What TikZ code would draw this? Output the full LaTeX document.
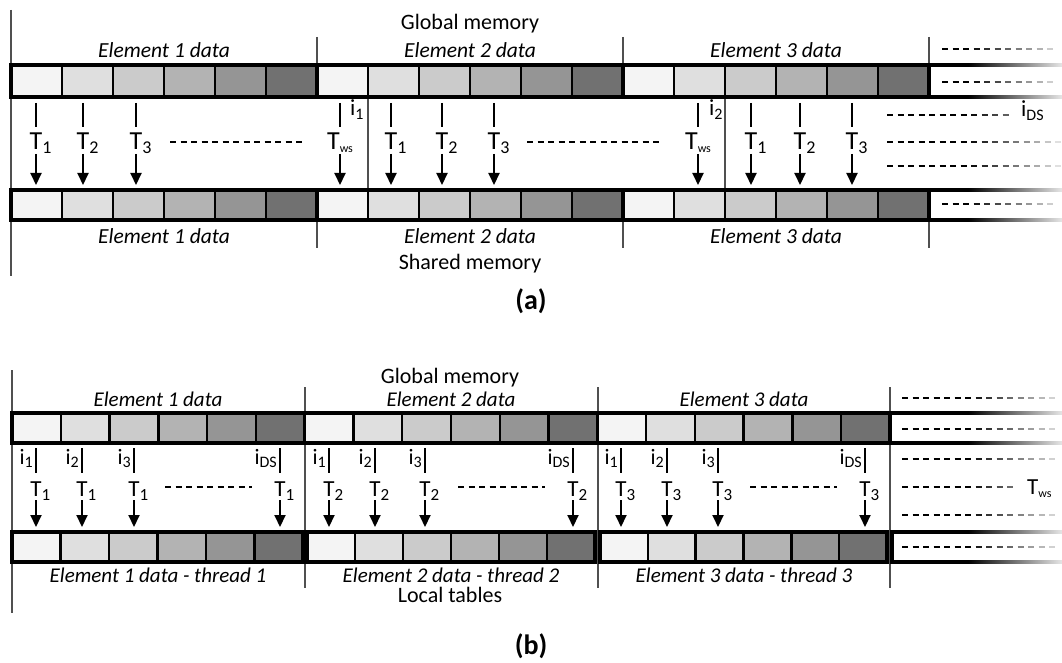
\documentclass[tikz,border=0pt]{standalone}
\usepackage{fontspec}
\setmainfont{Carlito}
\usetikzlibrary{arrows.meta}
\definecolor{ca}{HTML}{F4F4F4}
\definecolor{cb}{HTML}{DFDFDF}
\definecolor{cc}{HTML}{CBCBCB}
\definecolor{cd}{HTML}{B3B3B3}
\definecolor{ce}{HTML}{959595}
\definecolor{cf}{HTML}{717171}
\definecolor{vgray}{HTML}{505050}

\newcommand\cellrow[4]{%
  \foreach \k/\c in {0/ca,1/cb,2/cc,3/cd,4/ce,5/cf}{%
    \filldraw[fill=\c,draw=black,line width=2.4pt] ({#1+\k*#2},#3) rectangle ({#1+(\k+1)*#2},#4);}%
  \draw[line width=3.2pt] (#1,#3) rectangle ({#1+6*#2},#4);}

\newcommand\fdash[3]{%
  \pgfmathtruncatemacro\nd{(#2-#1-6)/10.5}%
  \foreach \k in {0,...,\nd}{%
    \pgfmathsetmacro\xa{#1+10.5*\k}%
    \pgfmathsetmacro\pc{\xa<965 ? 100 : max(12,100-88*(\xa-965)/90)}%
    \draw[line width=1.5pt,black!\pc] (\xa,#3) -- ++(6,0);}}

\newcommand\fline[2]{%
  \fill[black] (#1,#2-1.6) rectangle (968,#2+1.6);
  \shade[left color=black,right color=black!10] (968,#2-1.6) rectangle (1062,#2+1.6);}

\newcommand\Ta[1]{T\rlap{\raisebox{-4pt}{\fontsize{18}{18}\selectfont #1}}}
\newcommand\Tb[1]{T\rlap{\raisebox{-4pt}{\fontsize{17}{17}\selectfont #1}}}
\newcommand\Tws{T\raisebox{-3pt}{\fontsize{12}{12}\selectfont ws}}
\newcommand\ii[1]{i\raisebox{-3.5pt}{\fontsize{16}{16}\selectfont #1}}

\newcommand\tha[3]{%
  \draw[tick] (#1,103) -- (#1,127);
  \node[tla,anchor=base] (#2) at (#1,150) {#3};
  \draw[arr] (#1,154) -- (#1,185);}

\newcommand\thb[4]{%
  \draw[tick] (#1,448) -- (#1,473);
  \node[ilb,anchor=base east] (#2i) at (#1-3,464) {\ii{#4}};
  \node[tlb,anchor=base] (#2) at (#1,496) {\Tb{#3}};
  \draw[arr] (#1,500) -- (#1,527);}

\begin{document}
\begin{tikzpicture}[x=1pt,y=-1pt,
  vl/.style={draw=vgray,line width=1.2pt},
  tick/.style={line width=1.4pt},
  arr/.style={line width=2pt,-{Triangle[width=11pt,length=12pt]}},
  dsh/.style={line width=1.5pt,dash pattern=on 6pt off 4.5pt},
  lab/.style={inner sep=0pt,font=\fontsize{22}{26}\selectfont},
  ela/.style={inner sep=0pt,font=\fontsize{21.5}{26}\selectfont\itshape},
  elb/.style={inner sep=0pt,font=\fontsize{21}{25}\selectfont\itshape},
  tla/.style={inner sep=0pt,font=\fontsize{26}{30}\selectfont},
  tlb/.style={inner sep=0pt,font=\fontsize{23}{27}\selectfont},
  ila/.style={inner sep=0pt,font=\fontsize{23}{27}\selectfont},
  ilb/.style={inner sep=0pt,font=\fontsize{22}{26}\selectfont},
  capt/.style={inner sep=0pt,font=\fontsize{28}{32}\selectfont\bfseries}]
\useasboundingbox (0,0) rectangle (1062,663);

% ---------------- (a) ----------------
\draw[vl] (11,10) -- (11,276);
\foreach \x in {317,623,929} {\draw[vl] (\x,37) -- (\x,65); \draw[vl] (\x,220) -- (\x,248);}
\draw[vl] (368,97) -- (368,190);
\draw[vl] (725,97) -- (725,190);

\cellrow{11}{51}{65}{97}
\cellrow{317}{51}{65}{97}
\cellrow{623}{51}{65}{97}
\cellrow{11}{51}{190}{220}
\cellrow{317}{51}{190}{220}
\cellrow{623}{51}{190}{220}
\fline{929}{65}\fline{929}{97}\fline{929}{190}\fline{929}{220}

\node[lab,anchor=base] (gma) at (470,30) {Global memory};
\node[ela,anchor=base] (ea1) at (164,58) {Element 1 data};
\node[ela,anchor=base] (ea2) at (470,58) {Element 2 data};
\node[ela,anchor=base] (ea3) at (776,58) {Element 3 data};
\node[ela,anchor=base] (eb1) at (164,243) {Element 1 data};
\node[ela,anchor=base] (eb2) at (470,243) {Element 2 data};
\node[ela,anchor=base] (eb3) at (776,243) {Element 3 data};
\node[lab,anchor=base] (shm) at (470,269) {Shared memory};
\node[capt,anchor=base] (capa) at (531,309) {(a)};

\tha{36}{ta1}{\Ta{1}}
\tha{83}{ta2}{\Ta{2}}
\tha{136}{ta3}{\Ta{3}}
\tha{340}{taw1}{\Tws}
\tha{391}{tb1}{\Ta{1}}
\tha{442}{tb2}{\Ta{2}}
\tha{494}{tb3}{\Ta{3}}
\tha{698}{taw2}{\Tws}
\tha{751}{tc1}{\Ta{1}}
\tha{800}{tc2}{\Ta{2}}
\tha{852}{tc3}{\Ta{3}}
\node[ila,anchor=base west] (ia1) at (350,116) {\ii{1}};
\node[ila,anchor=base west] (ia2) at (709,116) {\ii{2}};
\node[ila,anchor=base west] (iads) at (1021,117) {\ii{DS}};

\draw[dsh] (170,142) -- (305,142);
\draw[dsh] (527,142) -- (662,142);
\fdash{942}{1062}{49}
\fdash{942}{1062}{82}
\fdash{887}{1012}{115}
\fdash{887}{1062}{142}
\fdash{887}{1062}{166}
\fdash{942}{1062}{204}

% ---------------- (b) ----------------
\draw[vl] (12,370) -- (12,613);
\foreach \x in {305,598,890} {\draw[vl] (\x,387) -- (\x,588);}

\cellrow{12}{48.78}{413}{443}
\cellrow{304.67}{48.78}{413}{443}
\cellrow{597.33}{48.78}{413}{443}
\fline{890}{413}\fline{890}{443}
\cellrow{12}{48.5}{532}{562}
\cellrow{307}{48}{532}{562}
\cellrow{600}{47.83}{532}{562}
\draw[line width=3.2pt] (892,530.4) -- (892,563.6);
\fline{892}{532}\fline{892}{562}

\node[lab,anchor=base] (gmb) at (450,383) {Global memory};
\node[elb,anchor=base] (ec1) at (158,406) {Element 1 data};
\node[elb,anchor=base] (ec2) at (451,406) {Element 2 data};
\node[elb,anchor=base] (ec3) at (744,406) {Element 3 data};
\node[elb,anchor=base] (ed1) at (158,582) {Element 1 data - thread 1};
\node[elb,anchor=base] (ed2) at (451,582) {Element 2 data - thread 2};
\node[elb,anchor=base] (ed3) at (744,582) {Element 3 data - thread 3};
\node[lab,anchor=base] (ltb) at (450,602) {Local tables};
\node[capt,anchor=base] (capb) at (531,654) {(b)};

\thb{36}{u1}{1}{1}
\thb{82}{u2}{1}{2}
\thb{134}{u3}{1}{3}
\thb{280}{u4}{1}{DS}
\thb{329}{v1}{2}{1}
\thb{375}{v2}{2}{2}
\thb{425}{v3}{2}{3}
\thb{573}{v4}{2}{DS}
\thb{621}{w1}{3}{1}
\thb{667}{w2}{3}{2}
\thb{718}{w3}{3}{3}
\thb{865}{w4}{3}{DS}

\draw[dsh] (165,487) -- (252,487);
\draw[dsh] (458,487) -- (545,487);
\draw[dsh] (750,487) -- (837,487);
\fdash{902}{1062}{398}
\fdash{902}{1062}{429}
\fdash{902}{1062}{459}
\fdash{902}{1020}{487}
\fdash{902}{1062}{515}
\fdash{902}{1062}{547}
\node[tlb,anchor=base west] (twsb) at (1027,494) {\Tws};
\end{tikzpicture}
\end{document}
